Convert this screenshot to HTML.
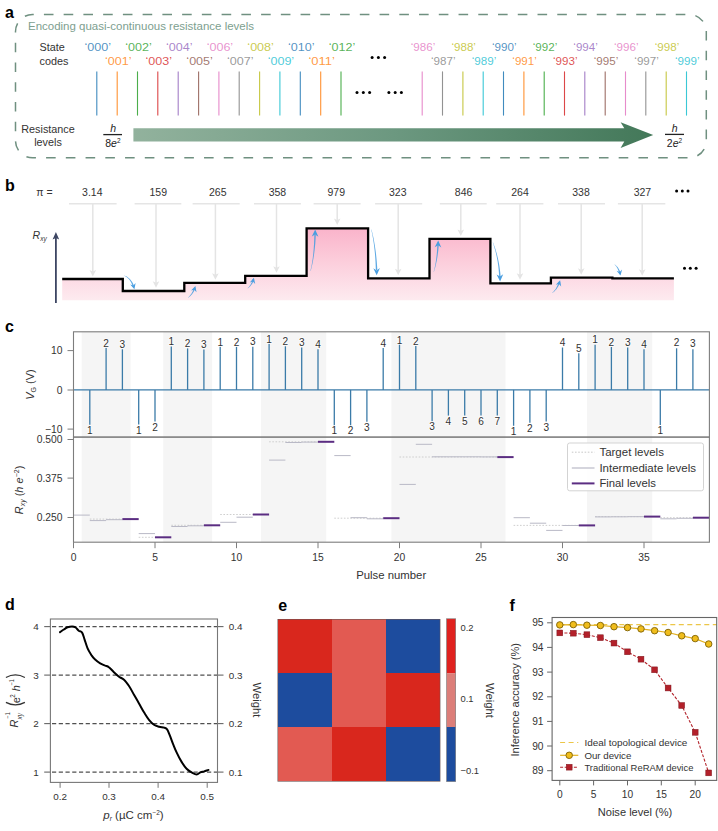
<!DOCTYPE html>
<html><head><meta charset="utf-8"><title>Figure</title>
<style>
html,body{margin:0;padding:0;background:#fff;}
body{width:718px;height:831px;overflow:hidden;font-family:"Liberation Sans",sans-serif;}
svg{display:block;font-family:"Liberation Sans",sans-serif;}
</style></head><body>
<svg width="718" height="831" viewBox="0 0 718 831">
<rect x="0" y="0" width="718" height="831" fill="#ffffff"/>
<defs>
<linearGradient id="garrow" x1="0" y1="0" x2="1" y2="0">
<stop offset="0" stop-color="#92b29d"/><stop offset="0.5" stop-color="#6c9880"/><stop offset="1" stop-color="#437859"/>
</linearGradient>
<linearGradient id="gpink" gradientUnits="userSpaceOnUse" x1="0" y1="228" x2="0" y2="301">
<stop offset="0" stop-color="#fab3ca"/><stop offset="0.45" stop-color="#fccddb"/><stop offset="1" stop-color="#fdebf0"/>
</linearGradient>
</defs>
<g id="pa">
<text x="5" y="17.5" font-size="16" fill="#000" text-anchor="start" font-weight="bold" font-style="normal" >a</text>
<rect x="15.5" y="14.5" width="690.8" height="143.3" rx="17" ry="17" fill="none" stroke="#6f9080" stroke-width="1.5" stroke-dasharray="9.6 10.145" stroke-dashoffset="8.345"/>
<text x="28" y="30.2" font-size="11" fill="#7da08f" text-anchor="start" font-weight="normal" font-style="normal" textLength="226" lengthAdjust="spacingAndGlyphs" >Encoding quasi-continuous resistance levels</text>
<text x="39.6" y="51.4" font-size="10.8" fill="#333333" text-anchor="start" font-weight="normal" font-style="normal" >State</text>
<text x="39.6" y="64.7" font-size="10.8" fill="#333333" text-anchor="start" font-weight="normal" font-style="normal" >codes</text>
<line x1="96.8" y1="71.4" x2="96.8" y2="115.6" stroke="#1f77b4" stroke-width="1.1" stroke-opacity="0.85"/>
<text x="97.8" y="51.4" font-size="10.8" fill="#1f77b4" text-anchor="middle" font-weight="normal" font-style="normal" textLength="26.5" lengthAdjust="spacingAndGlyphs" fill-opacity="0.8">‘000’</text>
<line x1="117.2" y1="71.4" x2="117.2" y2="115.6" stroke="#ff7f0e" stroke-width="1.1" stroke-opacity="0.85"/>
<text x="118.2" y="64.7" font-size="10.8" fill="#ff7f0e" text-anchor="middle" font-weight="normal" font-style="normal" textLength="26.5" lengthAdjust="spacingAndGlyphs" fill-opacity="0.8">‘001’</text>
<line x1="137.5" y1="71.4" x2="137.5" y2="115.6" stroke="#2ca02c" stroke-width="1.1" stroke-opacity="0.85"/>
<text x="138.5" y="51.4" font-size="10.8" fill="#2ca02c" text-anchor="middle" font-weight="normal" font-style="normal" textLength="26.5" lengthAdjust="spacingAndGlyphs" fill-opacity="0.8">‘002’</text>
<line x1="157.8" y1="71.4" x2="157.8" y2="115.6" stroke="#d62728" stroke-width="1.1" stroke-opacity="0.85"/>
<text x="158.8" y="64.7" font-size="10.8" fill="#d62728" text-anchor="middle" font-weight="normal" font-style="normal" textLength="26.5" lengthAdjust="spacingAndGlyphs" fill-opacity="0.8">‘003’</text>
<line x1="178.2" y1="71.4" x2="178.2" y2="115.6" stroke="#9467bd" stroke-width="1.1" stroke-opacity="0.85"/>
<text x="179.2" y="51.4" font-size="10.8" fill="#9467bd" text-anchor="middle" font-weight="normal" font-style="normal" textLength="26.5" lengthAdjust="spacingAndGlyphs" fill-opacity="0.8">‘004’</text>
<line x1="198.6" y1="71.4" x2="198.6" y2="115.6" stroke="#8c564b" stroke-width="1.1" stroke-opacity="0.85"/>
<text x="199.6" y="64.7" font-size="10.8" fill="#8c564b" text-anchor="middle" font-weight="normal" font-style="normal" textLength="26.5" lengthAdjust="spacingAndGlyphs" fill-opacity="0.8">‘005’</text>
<line x1="218.9" y1="71.4" x2="218.9" y2="115.6" stroke="#e377c2" stroke-width="1.1" stroke-opacity="0.85"/>
<text x="219.9" y="51.4" font-size="10.8" fill="#e377c2" text-anchor="middle" font-weight="normal" font-style="normal" textLength="26.5" lengthAdjust="spacingAndGlyphs" fill-opacity="0.8">‘006’</text>
<line x1="239.2" y1="71.4" x2="239.2" y2="115.6" stroke="#7f7f7f" stroke-width="1.1" stroke-opacity="0.85"/>
<text x="240.2" y="64.7" font-size="10.8" fill="#7f7f7f" text-anchor="middle" font-weight="normal" font-style="normal" textLength="26.5" lengthAdjust="spacingAndGlyphs" fill-opacity="0.8">‘007’</text>
<line x1="259.6" y1="71.4" x2="259.6" y2="115.6" stroke="#bcbd22" stroke-width="1.1" stroke-opacity="0.85"/>
<text x="260.6" y="51.4" font-size="10.8" fill="#bcbd22" text-anchor="middle" font-weight="normal" font-style="normal" textLength="26.5" lengthAdjust="spacingAndGlyphs" fill-opacity="0.8">‘008’</text>
<line x1="279.9" y1="71.4" x2="279.9" y2="115.6" stroke="#17becf" stroke-width="1.1" stroke-opacity="0.85"/>
<text x="280.9" y="64.7" font-size="10.8" fill="#17becf" text-anchor="middle" font-weight="normal" font-style="normal" textLength="26.5" lengthAdjust="spacingAndGlyphs" fill-opacity="0.8">‘009’</text>
<line x1="300.3" y1="71.4" x2="300.3" y2="115.6" stroke="#1f77b4" stroke-width="1.1" stroke-opacity="0.85"/>
<text x="301.3" y="51.4" font-size="10.8" fill="#1f77b4" text-anchor="middle" font-weight="normal" font-style="normal" textLength="26.5" lengthAdjust="spacingAndGlyphs" fill-opacity="0.8">‘010’</text>
<line x1="320.7" y1="71.4" x2="320.7" y2="115.6" stroke="#ff7f0e" stroke-width="1.1" stroke-opacity="0.85"/>
<text x="321.7" y="64.7" font-size="10.8" fill="#ff7f0e" text-anchor="middle" font-weight="normal" font-style="normal" textLength="26.5" lengthAdjust="spacingAndGlyphs" fill-opacity="0.8">‘011’</text>
<line x1="341.0" y1="71.4" x2="341.0" y2="115.6" stroke="#2ca02c" stroke-width="1.1" stroke-opacity="0.85"/>
<text x="342.0" y="51.4" font-size="10.8" fill="#2ca02c" text-anchor="middle" font-weight="normal" font-style="normal" textLength="26.5" lengthAdjust="spacingAndGlyphs" fill-opacity="0.8">‘012’</text>
<line x1="422.2" y1="71.4" x2="422.2" y2="115.6" stroke="#e377c2" stroke-width="1.1" stroke-opacity="0.85"/>
<text x="423.0" y="51.4" font-size="10.8" fill="#e377c2" text-anchor="middle" font-weight="normal" font-style="normal" textLength="24.5" lengthAdjust="spacingAndGlyphs" fill-opacity="0.8">‘986’</text>
<line x1="442.5" y1="71.4" x2="442.5" y2="115.6" stroke="#7f7f7f" stroke-width="1.1" stroke-opacity="0.85"/>
<text x="443.3" y="64.7" font-size="10.8" fill="#7f7f7f" text-anchor="middle" font-weight="normal" font-style="normal" textLength="24.5" lengthAdjust="spacingAndGlyphs" fill-opacity="0.8">‘987’</text>
<line x1="462.9" y1="71.4" x2="462.9" y2="115.6" stroke="#bcbd22" stroke-width="1.1" stroke-opacity="0.85"/>
<text x="463.7" y="51.4" font-size="10.8" fill="#bcbd22" text-anchor="middle" font-weight="normal" font-style="normal" textLength="24.5" lengthAdjust="spacingAndGlyphs" fill-opacity="0.8">‘988’</text>
<line x1="483.2" y1="71.4" x2="483.2" y2="115.6" stroke="#17becf" stroke-width="1.1" stroke-opacity="0.85"/>
<text x="484.0" y="64.7" font-size="10.8" fill="#17becf" text-anchor="middle" font-weight="normal" font-style="normal" textLength="24.5" lengthAdjust="spacingAndGlyphs" fill-opacity="0.8">‘989’</text>
<line x1="503.5" y1="71.4" x2="503.5" y2="115.6" stroke="#1f77b4" stroke-width="1.1" stroke-opacity="0.85"/>
<text x="504.3" y="51.4" font-size="10.8" fill="#1f77b4" text-anchor="middle" font-weight="normal" font-style="normal" textLength="24.5" lengthAdjust="spacingAndGlyphs" fill-opacity="0.8">‘990’</text>
<line x1="523.9" y1="71.4" x2="523.9" y2="115.6" stroke="#ff7f0e" stroke-width="1.1" stroke-opacity="0.85"/>
<text x="524.6" y="64.7" font-size="10.8" fill="#ff7f0e" text-anchor="middle" font-weight="normal" font-style="normal" textLength="24.5" lengthAdjust="spacingAndGlyphs" fill-opacity="0.8">‘991’</text>
<line x1="544.2" y1="71.4" x2="544.2" y2="115.6" stroke="#2ca02c" stroke-width="1.1" stroke-opacity="0.85"/>
<text x="545.0" y="51.4" font-size="10.8" fill="#2ca02c" text-anchor="middle" font-weight="normal" font-style="normal" textLength="24.5" lengthAdjust="spacingAndGlyphs" fill-opacity="0.8">‘992’</text>
<line x1="564.5" y1="71.4" x2="564.5" y2="115.6" stroke="#d62728" stroke-width="1.1" stroke-opacity="0.85"/>
<text x="565.3" y="64.7" font-size="10.8" fill="#d62728" text-anchor="middle" font-weight="normal" font-style="normal" textLength="24.5" lengthAdjust="spacingAndGlyphs" fill-opacity="0.8">‘993’</text>
<line x1="584.8" y1="71.4" x2="584.8" y2="115.6" stroke="#9467bd" stroke-width="1.1" stroke-opacity="0.85"/>
<text x="585.6" y="51.4" font-size="10.8" fill="#9467bd" text-anchor="middle" font-weight="normal" font-style="normal" textLength="24.5" lengthAdjust="spacingAndGlyphs" fill-opacity="0.8">‘994’</text>
<line x1="605.2" y1="71.4" x2="605.2" y2="115.6" stroke="#8c564b" stroke-width="1.1" stroke-opacity="0.85"/>
<text x="606.0" y="64.7" font-size="10.8" fill="#8c564b" text-anchor="middle" font-weight="normal" font-style="normal" textLength="24.5" lengthAdjust="spacingAndGlyphs" fill-opacity="0.8">‘995’</text>
<line x1="625.5" y1="71.4" x2="625.5" y2="115.6" stroke="#e377c2" stroke-width="1.1" stroke-opacity="0.85"/>
<text x="626.3" y="51.4" font-size="10.8" fill="#e377c2" text-anchor="middle" font-weight="normal" font-style="normal" textLength="24.5" lengthAdjust="spacingAndGlyphs" fill-opacity="0.8">‘996’</text>
<line x1="645.8" y1="71.4" x2="645.8" y2="115.6" stroke="#7f7f7f" stroke-width="1.1" stroke-opacity="0.85"/>
<text x="646.6" y="64.7" font-size="10.8" fill="#7f7f7f" text-anchor="middle" font-weight="normal" font-style="normal" textLength="24.5" lengthAdjust="spacingAndGlyphs" fill-opacity="0.8">‘997’</text>
<line x1="666.2" y1="71.4" x2="666.2" y2="115.6" stroke="#bcbd22" stroke-width="1.1" stroke-opacity="0.85"/>
<text x="667.0" y="51.4" font-size="10.8" fill="#bcbd22" text-anchor="middle" font-weight="normal" font-style="normal" textLength="24.5" lengthAdjust="spacingAndGlyphs" fill-opacity="0.8">‘998’</text>
<line x1="686.5" y1="71.4" x2="686.5" y2="115.6" stroke="#17becf" stroke-width="1.1" stroke-opacity="0.85"/>
<text x="687.3" y="64.7" font-size="10.8" fill="#17becf" text-anchor="middle" font-weight="normal" font-style="normal" textLength="24.5" lengthAdjust="spacingAndGlyphs" fill-opacity="0.8">‘999’</text>
<circle cx="372.1" cy="57.5" r="1.5" fill="#000"/>
<circle cx="378.4" cy="57.5" r="1.5" fill="#000"/>
<circle cx="384.6" cy="57.5" r="1.5" fill="#000"/>
<circle cx="357" cy="92.6" r="1.5" fill="#000"/>
<circle cx="363.3" cy="92.6" r="1.5" fill="#000"/>
<circle cx="369.6" cy="92.6" r="1.5" fill="#000"/>
<circle cx="388.9" cy="92.6" r="1.5" fill="#000"/>
<circle cx="395.2" cy="92.6" r="1.5" fill="#000"/>
<circle cx="401.4" cy="92.6" r="1.5" fill="#000"/>
<text x="48" y="133" font-size="10.8" fill="#333333" text-anchor="middle" font-weight="normal" font-style="normal" >Resistance</text>
<text x="48" y="145.6" font-size="10.8" fill="#333333" text-anchor="middle" font-weight="normal" font-style="normal" >levels</text>
<text x="113.2" y="131.6" font-size="10.5" fill="#222" text-anchor="middle" font-weight="normal" font-style="italic" >h</text>
<line x1="103.3" y1="134.6" x2="122" y2="134.6" stroke="#222" stroke-width="1.3"/>
<text x="105.2" y="147.2" font-size="10.5" fill="#222">8<tspan font-style="italic">e</tspan><tspan font-size="6.5" dy="-4.2">2</tspan></text>
<path d="M133.4,128.3 L624.3,128.3 L620.6,122.2 L653.2,135 L620.6,147.9 L624.3,141.5 L133.4,141.5 Z" fill="url(#garrow)"/>
<text x="674.6" y="131.8" font-size="10.5" fill="#222" text-anchor="middle" font-weight="normal" font-style="italic" >h</text>
<line x1="665" y1="134.4" x2="684" y2="134.4" stroke="#222" stroke-width="1.3"/>
<text x="666.8" y="147.2" font-size="10.5" fill="#222">2<tspan font-style="italic">e</tspan><tspan font-size="6.5" dy="-4.2">2</tspan></text>
</g>
<g id="pb">
<text x="5" y="191.3" font-size="16" fill="#000" text-anchor="start" font-weight="bold" font-style="normal" >b</text>
<text x="36.3" y="195.6" font-size="10.5" fill="#333333" text-anchor="start" font-weight="normal" font-style="normal" >π =</text>
<path d="M62.2,279 L122.8,279 L122.8,291 L184.3,291 L184.3,282.8 L245.2,282.8 L245.2,275.8 L306.6,275.8 L306.6,228.4 L368.1,228.4 L368.1,278.3 L429.5,278.3 L429.5,238.9 L490.4,238.9 L490.4,283.3 L550.9,283.3 L550.9,277.6 L612.4,277.6 L612.4,278.4 L673.9,278.4 L673.9,300.3 L62.2,300.3 Z" fill="url(#gpink)"/>
<line x1="69" y1="203.7" x2="116.6" y2="203.7" stroke="#e5e5e5" stroke-width="1.6"/>
<line x1="134.6" y1="203.7" x2="181.3" y2="203.7" stroke="#e5e5e5" stroke-width="1.6"/>
<line x1="192.6" y1="203.7" x2="239.7" y2="203.7" stroke="#e5e5e5" stroke-width="1.6"/>
<line x1="254" y1="203.7" x2="300.9" y2="203.7" stroke="#e5e5e5" stroke-width="1.6"/>
<line x1="313.6" y1="203.7" x2="360.6" y2="203.7" stroke="#e5e5e5" stroke-width="1.6"/>
<line x1="375.1" y1="203.7" x2="422.2" y2="203.7" stroke="#e5e5e5" stroke-width="1.6"/>
<line x1="439.8" y1="203.7" x2="486.7" y2="203.7" stroke="#e5e5e5" stroke-width="1.6"/>
<line x1="496.2" y1="203.7" x2="543.4" y2="203.7" stroke="#e5e5e5" stroke-width="1.6"/>
<line x1="558" y1="203.7" x2="605" y2="203.7" stroke="#e5e5e5" stroke-width="1.6"/>
<line x1="617.9" y1="203.7" x2="665.3" y2="203.7" stroke="#e5e5e5" stroke-width="1.6"/>
<line x1="92.8" y1="203.7" x2="92.8" y2="272.5" stroke="#e4e4e4" stroke-width="1.5"/>
<path d="M89.5,270.0 L92.8,271.5 L96.1,270.0 L92.8,276.5 Z" fill="#e4e4e4"/>
<line x1="156" y1="203.7" x2="156" y2="283.8" stroke="#e4e4e4" stroke-width="1.5"/>
<path d="M152.7,281.3 L156,282.8 L159.3,281.3 L156,287.8 Z" fill="#e4e4e4"/>
<line x1="215.4" y1="203.7" x2="215.4" y2="275.8" stroke="#e4e4e4" stroke-width="1.5"/>
<path d="M212.1,273.3 L215.4,274.8 L218.70000000000002,273.3 L215.4,279.8 Z" fill="#e4e4e4"/>
<line x1="276.5" y1="203.7" x2="276.5" y2="268.8" stroke="#e4e4e4" stroke-width="1.5"/>
<path d="M273.2,266.3 L276.5,267.8 L279.8,266.3 L276.5,272.8 Z" fill="#e4e4e4"/>
<line x1="337.2" y1="203.7" x2="337.2" y2="221" stroke="#e4e4e4" stroke-width="1.5"/>
<path d="M333.9,218.5 L337.2,220 L340.5,218.5 L337.2,225 Z" fill="#e4e4e4"/>
<line x1="398.2" y1="203.7" x2="398.2" y2="271.3" stroke="#e4e4e4" stroke-width="1.5"/>
<path d="M394.9,268.8 L398.2,270.3 L401.5,268.8 L398.2,275.3 Z" fill="#e4e4e4"/>
<line x1="460.8" y1="203.7" x2="460.8" y2="232" stroke="#e4e4e4" stroke-width="1.5"/>
<path d="M457.5,229.5 L460.8,231 L464.1,229.5 L460.8,236 Z" fill="#e4e4e4"/>
<line x1="520" y1="203.7" x2="520" y2="275.8" stroke="#e4e4e4" stroke-width="1.5"/>
<path d="M516.7,273.3 L520,274.8 L523.3,273.3 L520,279.8 Z" fill="#e4e4e4"/>
<line x1="581.2" y1="203.7" x2="581.2" y2="270.8" stroke="#e4e4e4" stroke-width="1.5"/>
<path d="M577.9000000000001,268.3 L581.2,269.8 L584.5,268.3 L581.2,274.8 Z" fill="#e4e4e4"/>
<line x1="642.2" y1="203.7" x2="642.2" y2="271.7" stroke="#e4e4e4" stroke-width="1.5"/>
<path d="M638.9000000000001,269.2 L642.2,270.7 L645.5,269.2 L642.2,275.7 Z" fill="#e4e4e4"/>
<text x="92.3" y="195.6" font-size="10.5" fill="#333333" text-anchor="middle" font-weight="normal" font-style="normal" >3.14</text>
<text x="158.3" y="195.6" font-size="10.5" fill="#333333" text-anchor="middle" font-weight="normal" font-style="normal" >159</text>
<text x="217.8" y="195.6" font-size="10.5" fill="#333333" text-anchor="middle" font-weight="normal" font-style="normal" >265</text>
<text x="277.4" y="195.6" font-size="10.5" fill="#333333" text-anchor="middle" font-weight="normal" font-style="normal" >358</text>
<text x="336.3" y="195.6" font-size="10.5" fill="#333333" text-anchor="middle" font-weight="normal" font-style="normal" >979</text>
<text x="397.8" y="195.6" font-size="10.5" fill="#333333" text-anchor="middle" font-weight="normal" font-style="normal" >323</text>
<text x="463.6" y="195.6" font-size="10.5" fill="#333333" text-anchor="middle" font-weight="normal" font-style="normal" >846</text>
<text x="520.0" y="195.6" font-size="10.5" fill="#333333" text-anchor="middle" font-weight="normal" font-style="normal" >264</text>
<text x="581.0" y="195.6" font-size="10.5" fill="#333333" text-anchor="middle" font-weight="normal" font-style="normal" >338</text>
<text x="642.4" y="195.6" font-size="10.5" fill="#333333" text-anchor="middle" font-weight="normal" font-style="normal" >327</text>
<circle cx="676.6" cy="191" r="1.5" fill="#000"/>
<circle cx="682.3" cy="191" r="1.5" fill="#000"/>
<circle cx="688.0" cy="191" r="1.5" fill="#000"/>
<circle cx="684.5" cy="268.3" r="1.5" fill="#000"/>
<circle cx="690.3" cy="268.3" r="1.5" fill="#000"/>
<circle cx="696.1" cy="268.3" r="1.5" fill="#000"/>
<text x="32.6" y="239" font-size="10.5" fill="#333333" font-style="italic">R<tspan font-size="6.5" dy="2.3">xy</tspan></text>
<line x1="55.9" y1="302.9" x2="55.9" y2="238" stroke="#3d4663" stroke-width="1.8"/>
<path d="M52.6,239.5 L55.9,232 L59.2,239.5 L55.9,238 Z" fill="#3d4663"/>
<path d="M62.2,279 L122.8,279 L122.8,291 L184.3,291 L184.3,282.8 L245.2,282.8 L245.2,275.8 L306.6,275.8 L306.6,228.4 L368.1,228.4 L368.1,278.3 L429.5,278.3 L429.5,238.9 L490.4,238.9 L490.4,283.3 L550.9,283.3 L550.9,277.6 L612.4,277.6 L612.4,278.4 L673.9,278.4" fill="none" stroke="#000" stroke-width="2.3" stroke-linejoin="miter"/>
<path d="M124.35,275.82 L125.22,276.25 L126.05,276.74 L126.84,277.29 L127.58,277.90 L128.29,278.57 L128.97,279.30 L129.60,280.10 L130.20,280.95 L130.76,281.87 L131.29,282.84 L131.79,283.88 L132.25,284.98 L132.67,286.15 L133.07,287.38 L134.49,286.90 L133.99,285.65 L133.46,284.46 L132.89,283.34 L132.29,282.29 L131.65,281.30 L130.98,280.39 L130.28,279.54 L129.54,278.77 L128.77,278.06 L127.96,277.43 L127.13,276.86 L126.26,276.37 L125.37,275.94 L124.45,275.58 Z" fill="#4a9ee0" fill-opacity="0.9"/>
<path d="M134.4,289.2 L130.2,284.5 L133.4,285.5 L135.6,283.1 Z" fill="#4a9ee0"/>
<path d="M188.17,297.70 L188.83,297.25 L189.46,296.76 L190.08,296.23 L190.68,295.67 L191.26,295.06 L191.82,294.42 L192.37,293.74 L192.89,293.01 L193.39,292.25 L193.87,291.46 L194.34,290.62 L194.78,289.75 L195.20,288.84 L195.60,287.89 L194.19,287.39 L193.89,288.32 L193.57,289.23 L193.22,290.10 L192.86,290.93 L192.47,291.73 L192.07,292.51 L191.64,293.24 L191.19,293.95 L190.72,294.62 L190.23,295.26 L189.71,295.87 L189.17,296.44 L188.61,296.99 L188.03,297.50 Z" fill="#4a9ee0" fill-opacity="0.9"/>
<path d="M195.4,286.1 L196.5,292.3 L194.3,289.7 L191.1,290.6 Z" fill="#4a9ee0"/>
<path d="M247.77,288.30 L248.35,287.90 L248.91,287.47 L249.46,287.00 L249.98,286.49 L250.49,285.94 L250.98,285.36 L251.45,284.75 L251.90,284.09 L252.34,283.40 L252.75,282.68 L253.15,281.92 L253.52,281.12 L253.88,280.29 L254.21,279.43 L252.78,278.97 L252.55,279.82 L252.29,280.64 L252.02,281.43 L251.72,282.19 L251.41,282.91 L251.07,283.61 L250.72,284.27 L250.34,284.91 L249.94,285.51 L249.52,286.09 L249.08,286.64 L248.62,287.15 L248.13,287.64 L247.63,288.10 Z" fill="#4a9ee0" fill-opacity="0.9"/>
<path d="M253.9,277.8 L255.2,283.9 L252.9,281.5 L249.8,282.5 Z" fill="#4a9ee0"/>
<path d="M310.62,271.03 L311.20,268.94 L311.75,266.78 L312.27,264.53 L312.75,262.20 L313.21,259.80 L313.63,257.31 L314.01,254.75 L314.37,252.11 L314.69,249.39 L314.99,246.59 L315.25,243.71 L315.47,240.76 L315.67,237.72 L315.83,234.61 L314.33,234.56 L314.26,237.66 L314.15,240.68 L314.02,243.63 L313.85,246.50 L313.65,249.29 L313.41,252.00 L313.15,254.64 L312.85,257.20 L312.52,259.69 L312.15,262.10 L311.76,264.43 L311.33,266.68 L310.87,268.86 L310.38,270.97 Z" fill="#4a9ee0" fill-opacity="0.9"/>
<path d="M315.2,229.6 L318.4,236.7 L315.1,234.4 L311.8,236.5 Z" fill="#4a9ee0"/>
<path d="M371.28,229.63 L371.85,232.28 L372.38,234.97 L372.87,237.70 L373.32,240.46 L373.74,243.26 L374.12,246.11 L374.46,248.99 L374.77,251.91 L375.04,254.86 L375.27,257.86 L375.47,260.90 L375.62,263.97 L375.74,267.08 L375.83,270.23 L377.32,270.18 L377.15,267.02 L376.94,263.89 L376.69,260.81 L376.41,257.76 L376.09,254.76 L375.73,251.80 L375.33,248.88 L374.90,246.00 L374.43,243.16 L373.92,240.36 L373.38,237.60 L372.80,234.88 L372.18,232.21 L371.52,229.57 Z" fill="#4a9ee0" fill-opacity="0.9"/>
<path d="M376.7,275.2 L373.3,268.3 L376.6,270.4 L379.9,268.1 Z" fill="#4a9ee0"/>
<path d="M433.92,271.83 L434.46,270.05 L434.98,268.24 L435.46,266.39 L435.92,264.51 L436.34,262.60 L436.74,260.66 L437.10,258.68 L437.44,256.67 L437.75,254.62 L438.02,252.55 L438.27,250.44 L438.49,248.30 L438.68,246.12 L438.83,243.92 L437.33,243.85 L437.27,246.04 L437.17,248.20 L437.04,250.33 L436.89,252.43 L436.70,254.50 L436.48,256.54 L436.24,258.54 L435.96,260.52 L435.66,262.47 L435.32,264.39 L434.96,266.28 L434.56,268.14 L434.14,269.97 L433.68,271.77 Z" fill="#4a9ee0" fill-opacity="0.9"/>
<path d="M438.2,240.4 L441.3,247.5 L438.1,245.2 L434.7,247.3 Z" fill="#4a9ee0"/>
<path d="M492.78,242.54 L493.56,244.82 L494.29,247.13 L494.97,249.47 L495.60,251.84 L496.19,254.24 L496.72,256.67 L497.20,259.13 L497.63,261.62 L498.01,264.14 L498.34,266.69 L498.62,269.27 L498.85,271.88 L499.04,274.53 L499.17,277.20 L500.67,277.12 L500.44,274.42 L500.17,271.76 L499.85,269.13 L499.47,266.53 L499.05,263.97 L498.58,261.45 L498.05,258.95 L497.48,256.49 L496.86,254.07 L496.19,251.68 L495.47,249.32 L494.70,247.00 L493.88,244.71 L493.02,242.46 Z" fill="#4a9ee0" fill-opacity="0.9"/>
<path d="M500.1,281.4 L496.6,274.5 L500.0,276.6 L503.2,274.3 Z" fill="#4a9ee0"/>
<path d="M552.27,293.00 L552.98,292.51 L553.66,291.97 L554.33,291.40 L554.97,290.77 L555.60,290.11 L556.20,289.40 L556.79,288.64 L557.35,287.84 L557.89,287.00 L558.41,286.12 L558.91,285.19 L559.38,284.22 L559.83,283.21 L560.26,282.16 L558.84,281.67 L558.51,282.71 L558.16,283.71 L557.79,284.68 L557.39,285.60 L556.97,286.49 L556.53,287.34 L556.06,288.15 L555.57,288.93 L555.06,289.67 L554.52,290.37 L553.96,291.03 L553.37,291.66 L552.76,292.25 L552.13,292.80 Z" fill="#4a9ee0" fill-opacity="0.9"/>
<path d="M560.1,280.2 L561.2,286.4 L559.0,283.9 L555.8,284.8 Z" fill="#4a9ee0"/>
<path d="M614.43,264.60 L614.94,265.04 L615.42,265.51 L615.87,266.03 L616.31,266.58 L616.72,267.16 L617.10,267.79 L617.47,268.46 L617.81,269.16 L618.13,269.90 L618.43,270.69 L618.70,271.51 L618.96,272.37 L619.19,273.27 L619.41,274.22 L620.86,273.84 L620.55,272.88 L620.21,271.96 L619.86,271.08 L619.48,270.24 L619.08,269.45 L618.66,268.71 L618.22,268.01 L617.76,267.36 L617.27,266.75 L616.77,266.18 L616.25,265.67 L615.71,265.20 L615.15,264.77 L614.57,264.40 Z" fill="#4a9ee0" fill-opacity="0.9"/>
<path d="M620.5,275.6 L616.6,270.7 L619.7,271.9 L622.1,269.5 Z" fill="#4a9ee0"/>
</g>
<g id="pc">
<text x="5" y="332" font-size="16" fill="#000" text-anchor="start" font-weight="bold" font-style="normal" >c</text>
<rect x="81.7" y="331.8" width="48.9" height="210.40000000000003" fill="#f5f5f5"/>
<rect x="163.2" y="331.8" width="48.9" height="210.40000000000003" fill="#f5f5f5"/>
<rect x="261.0" y="331.8" width="65.2" height="210.40000000000003" fill="#f5f5f5"/>
<rect x="391.4" y="331.8" width="114.1" height="210.40000000000003" fill="#f5f5f5"/>
<rect x="587.0" y="331.8" width="65.2" height="210.40000000000003" fill="#f5f5f5"/>
<line x1="73.5" y1="389.9" x2="709.4" y2="389.9" stroke="#3b7ba8" stroke-width="1.1"/>
<line x1="89.8" y1="389.9" x2="89.8" y2="424.8" stroke="#3b7ba8" stroke-width="1.3"/>
<line x1="106.1" y1="389.9" x2="106.1" y2="347.8" stroke="#3b7ba8" stroke-width="1.3"/>
<line x1="122.4" y1="389.9" x2="122.4" y2="349.3" stroke="#3b7ba8" stroke-width="1.3"/>
<line x1="138.7" y1="389.9" x2="138.7" y2="424.6" stroke="#3b7ba8" stroke-width="1.3"/>
<line x1="155.0" y1="389.9" x2="155.0" y2="421.5" stroke="#3b7ba8" stroke-width="1.3"/>
<line x1="171.3" y1="389.9" x2="171.3" y2="346.6" stroke="#3b7ba8" stroke-width="1.3"/>
<line x1="187.6" y1="389.9" x2="187.6" y2="348.4" stroke="#3b7ba8" stroke-width="1.3"/>
<line x1="203.9" y1="389.9" x2="203.9" y2="349.6" stroke="#3b7ba8" stroke-width="1.3"/>
<line x1="220.2" y1="389.9" x2="220.2" y2="346.8" stroke="#3b7ba8" stroke-width="1.3"/>
<line x1="236.5" y1="389.9" x2="236.5" y2="346.8" stroke="#3b7ba8" stroke-width="1.3"/>
<line x1="252.8" y1="389.9" x2="252.8" y2="346.8" stroke="#3b7ba8" stroke-width="1.3"/>
<line x1="269.1" y1="389.9" x2="269.1" y2="343.8" stroke="#3b7ba8" stroke-width="1.3"/>
<line x1="285.4" y1="389.9" x2="285.4" y2="346.3" stroke="#3b7ba8" stroke-width="1.3"/>
<line x1="301.7" y1="389.9" x2="301.7" y2="347.6" stroke="#3b7ba8" stroke-width="1.3"/>
<line x1="318.0" y1="389.9" x2="318.0" y2="349.3" stroke="#3b7ba8" stroke-width="1.3"/>
<line x1="334.3" y1="389.9" x2="334.3" y2="425.6" stroke="#3b7ba8" stroke-width="1.3"/>
<line x1="350.6" y1="389.9" x2="350.6" y2="425.6" stroke="#3b7ba8" stroke-width="1.3"/>
<line x1="366.9" y1="389.9" x2="366.9" y2="421.8" stroke="#3b7ba8" stroke-width="1.3"/>
<line x1="383.2" y1="389.9" x2="383.2" y2="348" stroke="#3b7ba8" stroke-width="1.3"/>
<line x1="399.5" y1="389.9" x2="399.5" y2="344.3" stroke="#3b7ba8" stroke-width="1.3"/>
<line x1="415.8" y1="389.9" x2="415.8" y2="346" stroke="#3b7ba8" stroke-width="1.3"/>
<line x1="432.1" y1="389.9" x2="432.1" y2="421.3" stroke="#3b7ba8" stroke-width="1.3"/>
<line x1="448.4" y1="389.9" x2="448.4" y2="415.6" stroke="#3b7ba8" stroke-width="1.3"/>
<line x1="464.7" y1="389.9" x2="464.7" y2="415.6" stroke="#3b7ba8" stroke-width="1.3"/>
<line x1="481.0" y1="389.9" x2="481.0" y2="415.6" stroke="#3b7ba8" stroke-width="1.3"/>
<line x1="497.3" y1="389.9" x2="497.3" y2="415.6" stroke="#3b7ba8" stroke-width="1.3"/>
<line x1="513.6" y1="389.9" x2="513.6" y2="425.8" stroke="#3b7ba8" stroke-width="1.3"/>
<line x1="529.9" y1="389.9" x2="529.9" y2="422.8" stroke="#3b7ba8" stroke-width="1.3"/>
<line x1="546.2" y1="389.9" x2="546.2" y2="421.4" stroke="#3b7ba8" stroke-width="1.3"/>
<line x1="562.5" y1="389.9" x2="562.5" y2="347.5" stroke="#3b7ba8" stroke-width="1.3"/>
<line x1="578.8" y1="389.9" x2="578.8" y2="353.3" stroke="#3b7ba8" stroke-width="1.3"/>
<line x1="595.1" y1="389.9" x2="595.1" y2="344.8" stroke="#3b7ba8" stroke-width="1.3"/>
<line x1="611.4" y1="389.9" x2="611.4" y2="347" stroke="#3b7ba8" stroke-width="1.3"/>
<line x1="627.7" y1="389.9" x2="627.7" y2="347.5" stroke="#3b7ba8" stroke-width="1.3"/>
<line x1="644.0" y1="389.9" x2="644.0" y2="349.2" stroke="#3b7ba8" stroke-width="1.3"/>
<line x1="660.3" y1="389.9" x2="660.3" y2="425" stroke="#3b7ba8" stroke-width="1.3"/>
<line x1="676.6" y1="389.9" x2="676.6" y2="348.3" stroke="#3b7ba8" stroke-width="1.3"/>
<line x1="692.9" y1="389.9" x2="692.9" y2="349.2" stroke="#3b7ba8" stroke-width="1.3"/>
<text x="89.8" y="433.9" font-size="10.1" fill="#333333" text-anchor="middle" font-weight="normal" font-style="normal" stroke="#fff" stroke-width="1.6" paint-order="stroke" stroke-opacity="0.75">1</text>
<text x="106.1" y="346.8" font-size="10.1" fill="#333333" text-anchor="middle" font-weight="normal" font-style="normal" stroke="#fff" stroke-width="1.6" paint-order="stroke" stroke-opacity="0.75">2</text>
<text x="122.4" y="348.0" font-size="10.1" fill="#333333" text-anchor="middle" font-weight="normal" font-style="normal" stroke="#fff" stroke-width="1.6" paint-order="stroke" stroke-opacity="0.75">3</text>
<text x="138.7" y="434.2" font-size="10.1" fill="#333333" text-anchor="middle" font-weight="normal" font-style="normal" stroke="#fff" stroke-width="1.6" paint-order="stroke" stroke-opacity="0.75">1</text>
<text x="155.0" y="431.2" font-size="10.1" fill="#333333" text-anchor="middle" font-weight="normal" font-style="normal" stroke="#fff" stroke-width="1.6" paint-order="stroke" stroke-opacity="0.75">2</text>
<text x="171.3" y="345.4" font-size="10.1" fill="#333333" text-anchor="middle" font-weight="normal" font-style="normal" stroke="#fff" stroke-width="1.6" paint-order="stroke" stroke-opacity="0.75">1</text>
<text x="187.6" y="346.6" font-size="10.1" fill="#333333" text-anchor="middle" font-weight="normal" font-style="normal" stroke="#fff" stroke-width="1.6" paint-order="stroke" stroke-opacity="0.75">2</text>
<text x="203.9" y="347.9" font-size="10.1" fill="#333333" text-anchor="middle" font-weight="normal" font-style="normal" stroke="#fff" stroke-width="1.6" paint-order="stroke" stroke-opacity="0.75">3</text>
<text x="220.2" y="345.6" font-size="10.1" fill="#333333" text-anchor="middle" font-weight="normal" font-style="normal" stroke="#fff" stroke-width="1.6" paint-order="stroke" stroke-opacity="0.75">1</text>
<text x="236.5" y="345.6" font-size="10.1" fill="#333333" text-anchor="middle" font-weight="normal" font-style="normal" stroke="#fff" stroke-width="1.6" paint-order="stroke" stroke-opacity="0.75">2</text>
<text x="252.8" y="345.4" font-size="10.1" fill="#333333" text-anchor="middle" font-weight="normal" font-style="normal" stroke="#fff" stroke-width="1.6" paint-order="stroke" stroke-opacity="0.75">3</text>
<text x="269.1" y="343.2" font-size="10.1" fill="#333333" text-anchor="middle" font-weight="normal" font-style="normal" stroke="#fff" stroke-width="1.6" paint-order="stroke" stroke-opacity="0.75">1</text>
<text x="285.4" y="344.9" font-size="10.1" fill="#333333" text-anchor="middle" font-weight="normal" font-style="normal" stroke="#fff" stroke-width="1.6" paint-order="stroke" stroke-opacity="0.75">2</text>
<text x="301.7" y="346.2" font-size="10.1" fill="#333333" text-anchor="middle" font-weight="normal" font-style="normal" stroke="#fff" stroke-width="1.6" paint-order="stroke" stroke-opacity="0.75">3</text>
<text x="318.0" y="348.2" font-size="10.1" fill="#333333" text-anchor="middle" font-weight="normal" font-style="normal" stroke="#fff" stroke-width="1.6" paint-order="stroke" stroke-opacity="0.75">4</text>
<text x="334.3" y="433.8" font-size="10.1" fill="#333333" text-anchor="middle" font-weight="normal" font-style="normal" stroke="#fff" stroke-width="1.6" paint-order="stroke" stroke-opacity="0.75">1</text>
<text x="350.6" y="434.4" font-size="10.1" fill="#333333" text-anchor="middle" font-weight="normal" font-style="normal" stroke="#fff" stroke-width="1.6" paint-order="stroke" stroke-opacity="0.75">2</text>
<text x="366.9" y="431.0" font-size="10.1" fill="#333333" text-anchor="middle" font-weight="normal" font-style="normal" stroke="#fff" stroke-width="1.6" paint-order="stroke" stroke-opacity="0.75">3</text>
<text x="383.2" y="346.9" font-size="10.1" fill="#333333" text-anchor="middle" font-weight="normal" font-style="normal" stroke="#fff" stroke-width="1.6" paint-order="stroke" stroke-opacity="0.75">4</text>
<text x="399.5" y="343.6" font-size="10.1" fill="#333333" text-anchor="middle" font-weight="normal" font-style="normal" stroke="#fff" stroke-width="1.6" paint-order="stroke" stroke-opacity="0.75">1</text>
<text x="415.8" y="345.4" font-size="10.1" fill="#333333" text-anchor="middle" font-weight="normal" font-style="normal" stroke="#fff" stroke-width="1.6" paint-order="stroke" stroke-opacity="0.75">2</text>
<text x="432.1" y="430.2" font-size="10.1" fill="#333333" text-anchor="middle" font-weight="normal" font-style="normal" stroke="#fff" stroke-width="1.6" paint-order="stroke" stroke-opacity="0.75">3</text>
<text x="448.4" y="424.5" font-size="10.1" fill="#333333" text-anchor="middle" font-weight="normal" font-style="normal" stroke="#fff" stroke-width="1.6" paint-order="stroke" stroke-opacity="0.75">4</text>
<text x="464.7" y="424.5" font-size="10.1" fill="#333333" text-anchor="middle" font-weight="normal" font-style="normal" stroke="#fff" stroke-width="1.6" paint-order="stroke" stroke-opacity="0.75">5</text>
<text x="481.0" y="424.5" font-size="10.1" fill="#333333" text-anchor="middle" font-weight="normal" font-style="normal" stroke="#fff" stroke-width="1.6" paint-order="stroke" stroke-opacity="0.75">6</text>
<text x="497.3" y="424.5" font-size="10.1" fill="#333333" text-anchor="middle" font-weight="normal" font-style="normal" stroke="#fff" stroke-width="1.6" paint-order="stroke" stroke-opacity="0.75">7</text>
<text x="513.6" y="434.5" font-size="10.1" fill="#333333" text-anchor="middle" font-weight="normal" font-style="normal" stroke="#fff" stroke-width="1.6" paint-order="stroke" stroke-opacity="0.75">1</text>
<text x="529.9" y="432.0" font-size="10.1" fill="#333333" text-anchor="middle" font-weight="normal" font-style="normal" stroke="#fff" stroke-width="1.6" paint-order="stroke" stroke-opacity="0.75">2</text>
<text x="546.2" y="430.7" font-size="10.1" fill="#333333" text-anchor="middle" font-weight="normal" font-style="normal" stroke="#fff" stroke-width="1.6" paint-order="stroke" stroke-opacity="0.75">3</text>
<text x="562.5" y="345.9" font-size="10.1" fill="#333333" text-anchor="middle" font-weight="normal" font-style="normal" stroke="#fff" stroke-width="1.6" paint-order="stroke" stroke-opacity="0.75">4</text>
<text x="578.8" y="351.9" font-size="10.1" fill="#333333" text-anchor="middle" font-weight="normal" font-style="normal" stroke="#fff" stroke-width="1.6" paint-order="stroke" stroke-opacity="0.75">5</text>
<text x="595.1" y="343.2" font-size="10.1" fill="#333333" text-anchor="middle" font-weight="normal" font-style="normal" stroke="#fff" stroke-width="1.6" paint-order="stroke" stroke-opacity="0.75">1</text>
<text x="611.4" y="345.9" font-size="10.1" fill="#333333" text-anchor="middle" font-weight="normal" font-style="normal" stroke="#fff" stroke-width="1.6" paint-order="stroke" stroke-opacity="0.75">2</text>
<text x="627.7" y="345.9" font-size="10.1" fill="#333333" text-anchor="middle" font-weight="normal" font-style="normal" stroke="#fff" stroke-width="1.6" paint-order="stroke" stroke-opacity="0.75">3</text>
<text x="644.0" y="348.1" font-size="10.1" fill="#333333" text-anchor="middle" font-weight="normal" font-style="normal" stroke="#fff" stroke-width="1.6" paint-order="stroke" stroke-opacity="0.75">4</text>
<text x="660.3" y="433.7" font-size="10.1" fill="#333333" text-anchor="middle" font-weight="normal" font-style="normal" stroke="#fff" stroke-width="1.6" paint-order="stroke" stroke-opacity="0.75">1</text>
<text x="676.6" y="346.4" font-size="10.1" fill="#333333" text-anchor="middle" font-weight="normal" font-style="normal" stroke="#fff" stroke-width="1.6" paint-order="stroke" stroke-opacity="0.75">2</text>
<text x="692.9" y="347.2" font-size="10.1" fill="#333333" text-anchor="middle" font-weight="normal" font-style="normal" stroke="#fff" stroke-width="1.6" paint-order="stroke" stroke-opacity="0.75">3</text>
<line x1="89.8" y1="519.1" x2="122.4" y2="519.1" stroke="#c9c9c9" stroke-width="0.9" stroke-dasharray="1.6 1.6"/>
<line x1="138.7" y1="537.3" x2="155.0" y2="537.3" stroke="#c9c9c9" stroke-width="0.9" stroke-dasharray="1.6 1.6"/>
<line x1="171.3" y1="525.3" x2="203.9" y2="525.3" stroke="#c9c9c9" stroke-width="0.9" stroke-dasharray="1.6 1.6"/>
<line x1="220.2" y1="514.5" x2="252.8" y2="514.5" stroke="#c9c9c9" stroke-width="0.9" stroke-dasharray="1.6 1.6"/>
<line x1="269.1" y1="441.8" x2="318.0" y2="441.8" stroke="#c9c9c9" stroke-width="0.9" stroke-dasharray="1.6 1.6"/>
<line x1="334.3" y1="518.2" x2="383.2" y2="518.2" stroke="#c9c9c9" stroke-width="0.9" stroke-dasharray="1.6 1.6"/>
<line x1="399.5" y1="457" x2="497.3" y2="457" stroke="#c9c9c9" stroke-width="0.9" stroke-dasharray="1.6 1.6"/>
<line x1="513.6" y1="525.4" x2="578.8" y2="525.4" stroke="#c9c9c9" stroke-width="0.9" stroke-dasharray="1.6 1.6"/>
<line x1="595.1" y1="516.6" x2="644.0" y2="516.6" stroke="#c9c9c9" stroke-width="0.9" stroke-dasharray="1.6 1.6"/>
<line x1="660.3" y1="517.7" x2="692.9" y2="517.7" stroke="#c9c9c9" stroke-width="0.9" stroke-dasharray="1.6 1.6"/>
<line x1="73.5" y1="515.1" x2="89.8" y2="515.1" stroke="#b9b9c6" stroke-width="1.0"/>
<line x1="89.8" y1="520.6" x2="106.1" y2="520.6" stroke="#b9b9c6" stroke-width="1.0"/>
<line x1="106.1" y1="519.7" x2="122.4" y2="519.7" stroke="#b9b9c6" stroke-width="1.0"/>
<line x1="138.7" y1="533.6" x2="155.0" y2="533.6" stroke="#b9b9c6" stroke-width="1.0"/>
<line x1="171.3" y1="526.5" x2="187.6" y2="526.5" stroke="#b9b9c6" stroke-width="1.0"/>
<line x1="187.6" y1="525.8" x2="203.9" y2="525.8" stroke="#b9b9c6" stroke-width="1.0"/>
<line x1="220.2" y1="522.3" x2="236.5" y2="522.3" stroke="#b9b9c6" stroke-width="1.0"/>
<line x1="236.5" y1="517.2" x2="252.8" y2="517.2" stroke="#b9b9c6" stroke-width="1.0"/>
<line x1="269.1" y1="460.1" x2="285.4" y2="460.1" stroke="#b9b9c6" stroke-width="1.0"/>
<line x1="285.4" y1="442.5" x2="301.7" y2="442.5" stroke="#b9b9c6" stroke-width="1.0"/>
<line x1="301.7" y1="442.1" x2="318.0" y2="442.1" stroke="#b9b9c6" stroke-width="1.0"/>
<line x1="334.3" y1="455.6" x2="350.6" y2="455.6" stroke="#b9b9c6" stroke-width="1.0"/>
<line x1="350.6" y1="517.7" x2="366.9" y2="517.7" stroke="#b9b9c6" stroke-width="1.0"/>
<line x1="366.9" y1="518.8" x2="383.2" y2="518.8" stroke="#b9b9c6" stroke-width="1.0"/>
<line x1="399.5" y1="484.4" x2="415.8" y2="484.4" stroke="#b9b9c6" stroke-width="1.0"/>
<line x1="415.8" y1="444.3" x2="432.1" y2="444.3" stroke="#b9b9c6" stroke-width="1.0"/>
<line x1="432.1" y1="456.8" x2="448.4" y2="456.8" stroke="#b9b9c6" stroke-width="1.0"/>
<line x1="448.4" y1="456.8" x2="464.7" y2="456.8" stroke="#b9b9c6" stroke-width="1.0"/>
<line x1="464.7" y1="456.8" x2="481.0" y2="456.8" stroke="#b9b9c6" stroke-width="1.0"/>
<line x1="481.0" y1="456.9" x2="497.3" y2="456.9" stroke="#b9b9c6" stroke-width="1.0"/>
<line x1="513.6" y1="517.7" x2="529.9" y2="517.7" stroke="#b9b9c6" stroke-width="1.0"/>
<line x1="529.9" y1="523.2" x2="546.2" y2="523.2" stroke="#b9b9c6" stroke-width="1.0"/>
<line x1="546.2" y1="530.4" x2="562.5" y2="530.4" stroke="#b9b9c6" stroke-width="1.0"/>
<line x1="562.5" y1="525.5" x2="578.8" y2="525.5" stroke="#b9b9c6" stroke-width="1.0"/>
<line x1="595.1" y1="516.9" x2="611.4" y2="516.9" stroke="#b9b9c6" stroke-width="1.0"/>
<line x1="611.4" y1="516.8" x2="627.7" y2="516.8" stroke="#b9b9c6" stroke-width="1.0"/>
<line x1="627.7" y1="516.7" x2="644.0" y2="516.7" stroke="#b9b9c6" stroke-width="1.0"/>
<line x1="660.3" y1="518.8" x2="676.6" y2="518.8" stroke="#b9b9c6" stroke-width="1.0"/>
<line x1="676.6" y1="518.3" x2="692.9" y2="518.3" stroke="#b9b9c6" stroke-width="1.0"/>
<line x1="122.4" y1="519.1" x2="138.7" y2="519.1" stroke="#5b2d82" stroke-width="2.0"/>
<line x1="155.0" y1="537.3" x2="171.3" y2="537.3" stroke="#5b2d82" stroke-width="2.0"/>
<line x1="203.9" y1="525.3" x2="220.2" y2="525.3" stroke="#5b2d82" stroke-width="2.0"/>
<line x1="252.8" y1="514.5" x2="269.1" y2="514.5" stroke="#5b2d82" stroke-width="2.0"/>
<line x1="318.0" y1="441.8" x2="334.3" y2="441.8" stroke="#5b2d82" stroke-width="2.0"/>
<line x1="383.2" y1="518.2" x2="399.5" y2="518.2" stroke="#5b2d82" stroke-width="2.0"/>
<line x1="497.3" y1="457.1" x2="513.6" y2="457.1" stroke="#5b2d82" stroke-width="2.0"/>
<line x1="578.8" y1="525.4" x2="595.1" y2="525.4" stroke="#5b2d82" stroke-width="2.0"/>
<line x1="644.0" y1="516.6" x2="660.3" y2="516.6" stroke="#5b2d82" stroke-width="2.0"/>
<line x1="692.9" y1="517.7" x2="709.2" y2="517.7" stroke="#5b2d82" stroke-width="2.0"/>
<rect x="73.5" y="331.8" width="635.9" height="105.30000000000001" fill="none" stroke="#7d7d7d" stroke-width="1.1"/>
<rect x="73.5" y="437.1" width="635.9" height="105.10000000000002" fill="none" stroke="#7d7d7d" stroke-width="1.1"/>
<line x1="67.5" y1="350.6" x2="73.5" y2="350.6" stroke="#7d7d7d" stroke-width="1"/>
<text x="62.5" y="354.3" font-size="10.3" fill="#333333" text-anchor="end" font-weight="normal" font-style="normal" >10</text>
<line x1="67.5" y1="390" x2="73.5" y2="390" stroke="#7d7d7d" stroke-width="1"/>
<text x="62.5" y="393.7" font-size="10.3" fill="#333333" text-anchor="end" font-weight="normal" font-style="normal" >0</text>
<line x1="67.5" y1="429.1" x2="73.5" y2="429.1" stroke="#7d7d7d" stroke-width="1"/>
<text x="62.5" y="432.8" font-size="10.3" fill="#333333" text-anchor="end" font-weight="normal" font-style="normal" >−10</text>
<line x1="67.5" y1="439.5" x2="73.5" y2="439.5" stroke="#7d7d7d" stroke-width="1"/>
<text x="62.5" y="443.2" font-size="10.3" fill="#333333" text-anchor="end" font-weight="normal" font-style="normal" >0.500</text>
<line x1="67.5" y1="478.1" x2="73.5" y2="478.1" stroke="#7d7d7d" stroke-width="1"/>
<text x="62.5" y="481.8" font-size="10.3" fill="#333333" text-anchor="end" font-weight="normal" font-style="normal" >0.375</text>
<line x1="67.5" y1="517.5" x2="73.5" y2="517.5" stroke="#7d7d7d" stroke-width="1"/>
<text x="62.5" y="521.2" font-size="10.3" fill="#333333" text-anchor="end" font-weight="normal" font-style="normal" >0.250</text>
<line x1="73.5" y1="542.2" x2="73.5" y2="548.2" stroke="#7d7d7d" stroke-width="1"/>
<text x="73.5" y="561.2" font-size="10.3" fill="#333333" text-anchor="middle" font-weight="normal" font-style="normal" >0</text>
<line x1="155.0" y1="542.2" x2="155.0" y2="548.2" stroke="#7d7d7d" stroke-width="1"/>
<text x="155.0" y="561.2" font-size="10.3" fill="#333333" text-anchor="middle" font-weight="normal" font-style="normal" >5</text>
<line x1="236.5" y1="542.2" x2="236.5" y2="548.2" stroke="#7d7d7d" stroke-width="1"/>
<text x="236.5" y="561.2" font-size="10.3" fill="#333333" text-anchor="middle" font-weight="normal" font-style="normal" >10</text>
<line x1="318.0" y1="542.2" x2="318.0" y2="548.2" stroke="#7d7d7d" stroke-width="1"/>
<text x="318.0" y="561.2" font-size="10.3" fill="#333333" text-anchor="middle" font-weight="normal" font-style="normal" >15</text>
<line x1="399.5" y1="542.2" x2="399.5" y2="548.2" stroke="#7d7d7d" stroke-width="1"/>
<text x="399.5" y="561.2" font-size="10.3" fill="#333333" text-anchor="middle" font-weight="normal" font-style="normal" >20</text>
<line x1="481.0" y1="542.2" x2="481.0" y2="548.2" stroke="#7d7d7d" stroke-width="1"/>
<text x="481.0" y="561.2" font-size="10.3" fill="#333333" text-anchor="middle" font-weight="normal" font-style="normal" >25</text>
<line x1="562.5" y1="542.2" x2="562.5" y2="548.2" stroke="#7d7d7d" stroke-width="1"/>
<text x="562.5" y="561.2" font-size="10.3" fill="#333333" text-anchor="middle" font-weight="normal" font-style="normal" >30</text>
<line x1="644.0" y1="542.2" x2="644.0" y2="548.2" stroke="#7d7d7d" stroke-width="1"/>
<text x="644.0" y="561.2" font-size="10.3" fill="#333333" text-anchor="middle" font-weight="normal" font-style="normal" >35</text>
<text x="391.2" y="579.2" font-size="11" fill="#333333" text-anchor="middle" font-weight="normal" font-style="normal" textLength="70" lengthAdjust="spacingAndGlyphs" >Pulse number</text>
<text transform="translate(33.6,384.6) rotate(-90)" font-size="11" fill="#333333" text-anchor="middle"><tspan font-style="italic">V</tspan><tspan font-size="7" dy="2">G</tspan><tspan dy="-2"> (V)</tspan></text>
<text transform="translate(22.5,490) rotate(-90)" font-size="11" fill="#333333" text-anchor="middle"><tspan font-style="italic">R</tspan><tspan font-size="7" dy="2.2" font-style="italic">xy</tspan><tspan dy="-2.2"> (</tspan><tspan font-style="italic">h e</tspan><tspan font-size="7" dy="-4">−2</tspan><tspan dy="4">)</tspan></text>
<rect x="567.5" y="443" width="136" height="47.8" rx="2.2" fill="#fff" fill-opacity="0.85" stroke="#d3d3d3" stroke-width="1"/>
<line x1="571.8" y1="452.2" x2="594.5" y2="452.2" stroke="#c9c9c9" stroke-width="1" stroke-dasharray="1.6 1.6"/>
<line x1="571.8" y1="468" x2="594.5" y2="468" stroke="#b9b9c6" stroke-width="1.2"/>
<line x1="571.8" y1="483.4" x2="594.5" y2="483.4" stroke="#5b2d82" stroke-width="2"/>
<text x="599.4" y="456.2" font-size="11.2" fill="#333333" text-anchor="start" font-weight="normal" font-style="normal" textLength="64.5" lengthAdjust="spacingAndGlyphs" >Target levels</text>
<text x="599.4" y="472" font-size="11.2" fill="#333333" text-anchor="start" font-weight="normal" font-style="normal" textLength="96.6" lengthAdjust="spacingAndGlyphs" >Intermediate levels</text>
<text x="599.4" y="487.3" font-size="11.2" fill="#333333" text-anchor="start" font-weight="normal" font-style="normal" textLength="56.5" lengthAdjust="spacingAndGlyphs" >Final levels</text>
</g>
<g id="pd">
<text x="5" y="610.3" font-size="16" fill="#000" text-anchor="start" font-weight="bold" font-style="normal" >d</text>
<line x1="44.199999999999996" y1="626.6" x2="50.4" y2="626.6" stroke="#666" stroke-width="1.1"/>
<line x1="217.5" y1="626.6" x2="223.5" y2="626.6" stroke="#666" stroke-width="1.1"/>
<line x1="52.0" y1="626.6" x2="217.5" y2="626.6" stroke="#505050" stroke-width="1.2" stroke-dasharray="4.2 2.54"/>
<text x="38.8" y="630.1" font-size="9.9" fill="#333333" text-anchor="end" font-weight="normal" font-style="normal" >4</text>
<text x="228.7" y="630.1" font-size="9.9" fill="#333333" text-anchor="start" font-weight="normal" font-style="normal" >0.4</text>
<line x1="44.199999999999996" y1="675.1" x2="50.4" y2="675.1" stroke="#666" stroke-width="1.1"/>
<line x1="217.5" y1="675.1" x2="223.5" y2="675.1" stroke="#666" stroke-width="1.1"/>
<line x1="52.0" y1="675.1" x2="217.5" y2="675.1" stroke="#505050" stroke-width="1.2" stroke-dasharray="4.2 2.54"/>
<text x="38.8" y="678.6" font-size="9.9" fill="#333333" text-anchor="end" font-weight="normal" font-style="normal" >3</text>
<text x="228.7" y="678.6" font-size="9.9" fill="#333333" text-anchor="start" font-weight="normal" font-style="normal" >0.3</text>
<line x1="44.199999999999996" y1="723.6" x2="50.4" y2="723.6" stroke="#666" stroke-width="1.1"/>
<line x1="217.5" y1="723.6" x2="223.5" y2="723.6" stroke="#666" stroke-width="1.1"/>
<line x1="52.0" y1="723.6" x2="217.5" y2="723.6" stroke="#505050" stroke-width="1.2" stroke-dasharray="4.2 2.54"/>
<text x="38.8" y="727.1" font-size="9.9" fill="#333333" text-anchor="end" font-weight="normal" font-style="normal" >2</text>
<text x="228.7" y="727.1" font-size="9.9" fill="#333333" text-anchor="start" font-weight="normal" font-style="normal" >0.2</text>
<line x1="44.199999999999996" y1="772.1" x2="50.4" y2="772.1" stroke="#666" stroke-width="1.1"/>
<line x1="217.5" y1="772.1" x2="223.5" y2="772.1" stroke="#666" stroke-width="1.1"/>
<line x1="52.0" y1="772.1" x2="217.5" y2="772.1" stroke="#505050" stroke-width="1.2" stroke-dasharray="4.2 2.54"/>
<text x="38.8" y="775.6" font-size="9.9" fill="#333333" text-anchor="end" font-weight="normal" font-style="normal" >1</text>
<text x="228.7" y="775.6" font-size="9.9" fill="#333333" text-anchor="start" font-weight="normal" font-style="normal" >0.1</text>
<rect x="50.4" y="619" width="167.1" height="163.39999999999998" fill="none" stroke="#777" stroke-width="1.1"/>
<line x1="60.1" y1="782.4" x2="60.1" y2="787.8" stroke="#777" stroke-width="1"/>
<text x="60.1" y="799.9" font-size="9.9" fill="#333333" text-anchor="middle" font-weight="normal" font-style="normal" >0.2</text>
<line x1="109" y1="782.4" x2="109" y2="787.8" stroke="#777" stroke-width="1"/>
<text x="109" y="799.9" font-size="9.9" fill="#333333" text-anchor="middle" font-weight="normal" font-style="normal" >0.3</text>
<line x1="158.1" y1="782.4" x2="158.1" y2="787.8" stroke="#777" stroke-width="1"/>
<text x="158.1" y="799.9" font-size="9.9" fill="#333333" text-anchor="middle" font-weight="normal" font-style="normal" >0.4</text>
<line x1="207.2" y1="782.4" x2="207.2" y2="787.8" stroke="#777" stroke-width="1"/>
<text x="207.2" y="799.9" font-size="9.9" fill="#333333" text-anchor="middle" font-weight="normal" font-style="normal" >0.5</text>
<path d="M60.0,632.1 C60.6,631.7 62.5,630.3 63.8,629.5 C65.1,628.7 66.2,627.8 67.6,627.3 C69.0,626.8 70.8,626.5 72.1,626.5 C73.4,626.5 74.5,626.8 75.6,627.5 C76.7,628.2 77.7,629.9 78.8,630.8 C79.9,631.6 81.1,631.1 82.1,632.6 C83.1,634.1 83.7,637.0 84.6,639.6 C85.5,642.2 86.5,645.8 87.6,648.4 C88.7,651.0 90.2,653.2 91.4,655.1 C92.7,657.0 93.6,658.2 95.1,659.6 C96.6,661.0 98.5,662.4 100.2,663.4 C101.9,664.4 103.8,665.0 105.2,665.6 C106.7,666.2 107.5,666.1 108.9,667.2 C110.4,668.3 112.2,670.6 113.9,672.2 C115.6,673.8 117.3,675.5 119,676.7 C120.7,678.0 122.3,678.2 124,679.7 C125.7,681.2 127.3,683.5 129,686 C130.7,688.5 132.3,691.8 134,694.7 C135.7,697.6 137.3,700.6 139,703.5 C140.7,706.4 142.3,709.6 144,712.3 C145.7,715.0 147.3,717.7 149,719.8 C150.7,721.9 152.3,723.6 154,724.8 C155.7,726.0 157.4,726.3 159.1,726.8 C160.8,727.3 162.8,727.2 164.1,727.6 C165.4,728.0 166.2,728.1 167.1,729.3 C168.0,730.5 168.6,732.4 169.6,734.8 C170.6,737.2 171.7,740.7 172.9,743.6 C174.1,746.5 175.2,749.4 176.6,752.4 C178.0,755.4 179.9,759.2 181.6,761.9 C183.3,764.6 184.9,767.0 186.6,768.7 C188.3,770.5 190.0,771.5 191.7,772.4 C193.4,773.3 195.2,774.4 196.7,774.4 C198.1,774.4 199.2,772.9 200.4,772.4 C201.7,771.9 202.8,771.8 204.2,771.4 C205.5,771.0 207.8,770.1 208.5,769.9" fill="none" stroke="#000" stroke-width="2" stroke-linecap="round"/>
<g transform="translate(18.3,727.4) rotate(-90)" fill="#333333"><text x="0" y="0" font-size="11" font-style="italic">R</text><text x="8.9" y="-8.4" font-size="6.3" textLength="6.2" lengthAdjust="spacingAndGlyphs">−1</text><text x="7.9" y="3.7" font-size="6.5" font-style="italic">xy</text><path d="M25,-12.4 Q19.9,-2.9 25,6.6" fill="none" stroke="#333333" stroke-width="1.2"/><text x="24.1" y="2" font-size="11">e</text><text x="29.7" y="-3.4" font-size="6.3">2</text><text x="36.2" y="2" font-size="11" font-style="italic">h</text><text x="42.1" y="-4.3" font-size="6.3" textLength="6.2" lengthAdjust="spacingAndGlyphs">−1</text><path d="M49.9,-12.4 Q55,-2.9 49.9,6.6" fill="none" stroke="#333333" stroke-width="1.2"/></g>
<text transform="translate(253,700) rotate(90)" font-size="11.3" fill="#333333" text-anchor="middle">Weight</text>
<text x="133.5" y="818.6" font-size="11.5" fill="#333333" text-anchor="middle"><tspan font-style="italic">p</tspan><tspan font-size="6.5" dy="2" font-style="italic">r</tspan><tspan dy="-2"> (µC cm</tspan><tspan font-size="6.5" dy="-4">−2</tspan><tspan dy="4">)</tspan></text>
</g>
<g id="pe">
<text x="278.3" y="610.8" font-size="16" fill="#000" text-anchor="start" font-weight="bold" font-style="normal" >e</text>
<rect x="278" y="619" width="54" height="54" fill="#d9271d"/>
<rect x="332" y="619" width="54" height="54" fill="#e25a52"/>
<rect x="386" y="619" width="54" height="54" fill="#1d4c9e"/>
<rect x="278" y="673" width="54" height="54" fill="#1d4c9e"/>
<rect x="332" y="673" width="54" height="54" fill="#e25a52"/>
<rect x="386" y="673" width="54" height="54" fill="#d9271d"/>
<rect x="278" y="727" width="54" height="54" fill="#e25a52"/>
<rect x="332" y="727" width="54" height="54" fill="#d9271d"/>
<rect x="386" y="727" width="54" height="54" fill="#1d4c9e"/>
<rect x="277.8" y="619.3" width="162.3" height="162.2" fill="none" stroke="#6b5555" stroke-width="0.6"/>
<rect x="446.6" y="618.8" width="9.1" height="54.5" fill="#e0211f"/>
<rect x="446.6" y="673.2" width="9.1" height="53.9" fill="#dc7e79"/>
<rect x="446.6" y="727" width="9.1" height="54.6" fill="#1d4c9e"/>
<rect x="446.6" y="618.8" width="9.1" height="162.8" fill="none" stroke="#777" stroke-width="0.6"/>
<text x="460.5" y="631.2" font-size="9.4" fill="#333333" text-anchor="start" font-weight="normal" font-style="normal" >0.2</text>
<text x="460.5" y="702.2" font-size="9.4" fill="#333333" text-anchor="start" font-weight="normal" font-style="normal" >0.1</text>
<text x="460.5" y="773.7" font-size="9.4" fill="#333333" text-anchor="start" font-weight="normal" font-style="normal" >−0.1</text>
<text transform="translate(486,700.5) rotate(90)" font-size="11.3" fill="#333333" text-anchor="middle">Weight</text>
</g>
<g id="pf">
<text x="509.6" y="610.6" font-size="16" fill="#000" text-anchor="start" font-weight="bold" font-style="normal" >f</text>
<line x1="559.8" y1="624.6" x2="716.7" y2="624.6" stroke="#ecc648" stroke-width="1.2" stroke-dasharray="5 3.5"/>
<polyline points="559.8,632.9 573.3,633.2 586.9,634.7 600.4,637.7 614.0,643.1 627.5,651.8 641.0,659.2 654.6,669.8 668.1,688 681.7,705.5 695.2,732.3 708.7,772.9" fill="none" stroke="#b3242c" stroke-width="1.1" stroke-dasharray="3 1.6"/>
<rect x="556.9" y="630.0" width="5.8" height="5.8" fill="#b3202a" stroke="#7e141c" stroke-width="0.5"/>
<rect x="570.4" y="630.3" width="5.8" height="5.8" fill="#b3202a" stroke="#7e141c" stroke-width="0.5"/>
<rect x="584.0" y="631.8" width="5.8" height="5.8" fill="#b3202a" stroke="#7e141c" stroke-width="0.5"/>
<rect x="597.5" y="634.8" width="5.8" height="5.8" fill="#b3202a" stroke="#7e141c" stroke-width="0.5"/>
<rect x="611.1" y="640.2" width="5.8" height="5.8" fill="#b3202a" stroke="#7e141c" stroke-width="0.5"/>
<rect x="624.6" y="648.9" width="5.8" height="5.8" fill="#b3202a" stroke="#7e141c" stroke-width="0.5"/>
<rect x="638.1" y="656.3" width="5.8" height="5.8" fill="#b3202a" stroke="#7e141c" stroke-width="0.5"/>
<rect x="651.7" y="666.9" width="5.8" height="5.8" fill="#b3202a" stroke="#7e141c" stroke-width="0.5"/>
<rect x="665.2" y="685.1" width="5.8" height="5.8" fill="#b3202a" stroke="#7e141c" stroke-width="0.5"/>
<rect x="678.8" y="702.6" width="5.8" height="5.8" fill="#b3202a" stroke="#7e141c" stroke-width="0.5"/>
<rect x="692.3" y="729.4" width="5.8" height="5.8" fill="#b3202a" stroke="#7e141c" stroke-width="0.5"/>
<rect x="705.8" y="770.0" width="5.8" height="5.8" fill="#b3202a" stroke="#7e141c" stroke-width="0.5"/>
<polyline points="559.8,624.9 573.3,624.6 586.9,625.2 600.4,625.5 614.0,626.7 627.5,627.6 641.0,628.9 654.6,630.7 668.1,632.5 681.7,635.8 695.2,638.6 708.7,644" fill="none" stroke="#e2b122" stroke-width="1.2"/>
<circle cx="559.8" cy="624.9" r="3.25" fill="#f0bd1c" stroke="#8a6c0c" stroke-width="1"/>
<circle cx="573.3" cy="624.6" r="3.25" fill="#f0bd1c" stroke="#8a6c0c" stroke-width="1"/>
<circle cx="586.9" cy="625.2" r="3.25" fill="#f0bd1c" stroke="#8a6c0c" stroke-width="1"/>
<circle cx="600.4" cy="625.5" r="3.25" fill="#f0bd1c" stroke="#8a6c0c" stroke-width="1"/>
<circle cx="614.0" cy="626.7" r="3.25" fill="#f0bd1c" stroke="#8a6c0c" stroke-width="1"/>
<circle cx="627.5" cy="627.6" r="3.25" fill="#f0bd1c" stroke="#8a6c0c" stroke-width="1"/>
<circle cx="641.0" cy="628.9" r="3.25" fill="#f0bd1c" stroke="#8a6c0c" stroke-width="1"/>
<circle cx="654.6" cy="630.7" r="3.25" fill="#f0bd1c" stroke="#8a6c0c" stroke-width="1"/>
<circle cx="668.1" cy="632.5" r="3.25" fill="#f0bd1c" stroke="#8a6c0c" stroke-width="1"/>
<circle cx="681.7" cy="635.8" r="3.25" fill="#f0bd1c" stroke="#8a6c0c" stroke-width="1"/>
<circle cx="695.2" cy="638.6" r="3.25" fill="#f0bd1c" stroke="#8a6c0c" stroke-width="1"/>
<circle cx="708.7" cy="644" r="3.25" fill="#f0bd1c" stroke="#8a6c0c" stroke-width="1"/>
<rect x="552.1" y="617.5" width="164.60000000000002" height="162.89999999999998" fill="none" stroke="#666" stroke-width="1.1"/>
<line x1="547.1" y1="770.7" x2="552.1" y2="770.7" stroke="#666" stroke-width="1"/>
<text x="543.5" y="774.3" font-size="10.2" fill="#333333" text-anchor="end" font-weight="normal" font-style="normal" >89</text>
<line x1="547.1" y1="746.0" x2="552.1" y2="746.0" stroke="#666" stroke-width="1"/>
<text x="543.5" y="749.6" font-size="10.2" fill="#333333" text-anchor="end" font-weight="normal" font-style="normal" >90</text>
<line x1="547.1" y1="721.4" x2="552.1" y2="721.4" stroke="#666" stroke-width="1"/>
<text x="543.5" y="725.0" font-size="10.2" fill="#333333" text-anchor="end" font-weight="normal" font-style="normal" >91</text>
<line x1="547.1" y1="696.8" x2="552.1" y2="696.8" stroke="#666" stroke-width="1"/>
<text x="543.5" y="700.4" font-size="10.2" fill="#333333" text-anchor="end" font-weight="normal" font-style="normal" >92</text>
<line x1="547.1" y1="672.1" x2="552.1" y2="672.1" stroke="#666" stroke-width="1"/>
<text x="543.5" y="675.7" font-size="10.2" fill="#333333" text-anchor="end" font-weight="normal" font-style="normal" >93</text>
<line x1="547.1" y1="647.4" x2="552.1" y2="647.4" stroke="#666" stroke-width="1"/>
<text x="543.5" y="651.0" font-size="10.2" fill="#333333" text-anchor="end" font-weight="normal" font-style="normal" >94</text>
<line x1="547.1" y1="622.8" x2="552.1" y2="622.8" stroke="#666" stroke-width="1"/>
<text x="543.5" y="626.4" font-size="10.2" fill="#333333" text-anchor="end" font-weight="normal" font-style="normal" >95</text>
<line x1="559.8" y1="780.4" x2="559.8" y2="785.4" stroke="#666" stroke-width="1"/>
<text x="559.8" y="797.8" font-size="10.2" fill="#333333" text-anchor="middle" font-weight="normal" font-style="normal" >0</text>
<line x1="593.6" y1="780.4" x2="593.6" y2="785.4" stroke="#666" stroke-width="1"/>
<text x="593.6" y="797.8" font-size="10.2" fill="#333333" text-anchor="middle" font-weight="normal" font-style="normal" >5</text>
<line x1="627.5" y1="780.4" x2="627.5" y2="785.4" stroke="#666" stroke-width="1"/>
<text x="627.5" y="797.8" font-size="10.2" fill="#333333" text-anchor="middle" font-weight="normal" font-style="normal" >10</text>
<line x1="661.3" y1="780.4" x2="661.3" y2="785.4" stroke="#666" stroke-width="1"/>
<text x="661.3" y="797.8" font-size="10.2" fill="#333333" text-anchor="middle" font-weight="normal" font-style="normal" >15</text>
<line x1="695.2" y1="780.4" x2="695.2" y2="785.4" stroke="#666" stroke-width="1"/>
<text x="695.2" y="797.8" font-size="10.2" fill="#333333" text-anchor="middle" font-weight="normal" font-style="normal" >20</text>
<text x="635" y="816.2" font-size="11" fill="#333333" text-anchor="middle" font-weight="normal" font-style="normal" textLength="74.5" lengthAdjust="spacingAndGlyphs" >Noise level (%)</text>
<text transform="translate(519,699.8) rotate(-90)" font-size="11" fill="#333333" text-anchor="middle" textLength="113.5" lengthAdjust="spacingAndGlyphs">Inference accuracy (%)</text>
<line x1="560.1" y1="742.5" x2="578.3" y2="742.5" stroke="#ecc648" stroke-width="1.2" stroke-dasharray="5 3.5"/>
<line x1="560.1" y1="755.3" x2="578.3" y2="755.3" stroke="#e2b122" stroke-width="1.2"/>
<circle cx="569.2" cy="755.3" r="3.25" fill="#f0bd1c" stroke="#8a6c0c" stroke-width="1"/>
<line x1="560.1" y1="767.2" x2="578.3" y2="767.2" stroke="#b3242c" stroke-width="1.1" stroke-dasharray="3 1.6"/>
<rect x="566.3" y="764.3" width="5.8" height="5.8" fill="#b3202a" stroke="#7e141c" stroke-width="0.5"/>
<text x="584.4" y="745.9" font-size="9.7" fill="#333333" text-anchor="start" font-weight="normal" font-style="normal" textLength="103" lengthAdjust="spacingAndGlyphs" >Ideal topological device</text>
<text x="584.4" y="758.7" font-size="9.7" fill="#333333" text-anchor="start" font-weight="normal" font-style="normal" textLength="47" lengthAdjust="spacingAndGlyphs" >Our device</text>
<text x="584.4" y="770.6" font-size="9.7" fill="#333333" text-anchor="start" font-weight="normal" font-style="normal" textLength="109" lengthAdjust="spacingAndGlyphs" >Traditional ReRAM device</text>
</g>
</svg>
</body></html>
